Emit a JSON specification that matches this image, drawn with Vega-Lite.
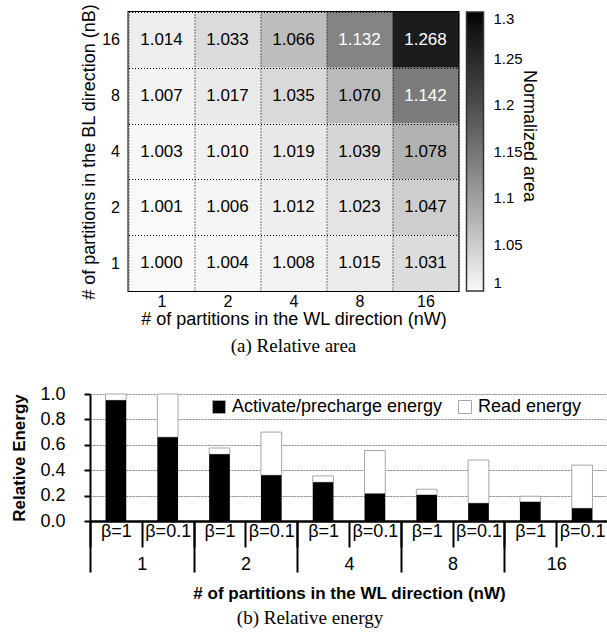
{
  "$schema": "https://vega.github.io/schema/vega-lite/v6.json",
  "padding": {"left": 10, "top": -21, "right": 0, "bottom": 0},
  "center": true,
  "spacing": 28,
  "config": {
    "font": "Liberation Sans",
    "axis": {"labelColor": "black", "titleColor": "black", "labelFont": "Liberation Sans", "titleFont": "Liberation Sans"},
    "legend": {"labelColor": "black", "titleColor": "black", "labelFont": "Liberation Sans", "titleFont": "Liberation Sans"}
  },
  "vconcat": [
    {
      "width": 330,
      "height": 279,
      "view": {"stroke": "black", "strokeWidth": 2},
      "title": {"text": "(a) Relative area", "orient": "bottom", "font": "Liberation Serif", "fontSize": 19, "fontWeight": "normal", "color": "black", "offset": 9, "frame": "group", "anchor": "middle"},
      "data": {"values": [
        {"nW": "1", "nB": "16", "area": 1.014}, {"nW": "2", "nB": "16", "area": 1.033}, {"nW": "4", "nB": "16", "area": 1.066}, {"nW": "8", "nB": "16", "area": 1.132}, {"nW": "16", "nB": "16", "area": 1.268},
        {"nW": "1", "nB": "8", "area": 1.007}, {"nW": "2", "nB": "8", "area": 1.017}, {"nW": "4", "nB": "8", "area": 1.035}, {"nW": "8", "nB": "8", "area": 1.070}, {"nW": "16", "nB": "8", "area": 1.142},
        {"nW": "1", "nB": "4", "area": 1.003}, {"nW": "2", "nB": "4", "area": 1.010}, {"nW": "4", "nB": "4", "area": 1.019}, {"nW": "8", "nB": "4", "area": 1.039}, {"nW": "16", "nB": "4", "area": 1.078},
        {"nW": "1", "nB": "2", "area": 1.001}, {"nW": "2", "nB": "2", "area": 1.006}, {"nW": "4", "nB": "2", "area": 1.012}, {"nW": "8", "nB": "2", "area": 1.023}, {"nW": "16", "nB": "2", "area": 1.047},
        {"nW": "1", "nB": "1", "area": 1.000}, {"nW": "2", "nB": "1", "area": 1.004}, {"nW": "4", "nB": "1", "area": 1.008}, {"nW": "8", "nB": "1", "area": 1.015}, {"nW": "16", "nB": "1", "area": 1.031}
      ]},
      "encoding": {
        "x": {"field": "nW", "type": "ordinal", "scale": {"domain": ["1", "2", "4", "8", "16"], "paddingInner": 0, "paddingOuter": 0},
          "axis": {"title": "# of partitions in the WL direction (nW)", "labelAngle": 0, "labelFontSize": 16, "titleFontSize": 18, "titleFontWeight": "normal", "labelPadding": 2, "titlePadding": 1, "ticks": false, "domain": false, "grid": true, "tickBand": "extent", "gridColor": "black", "gridDash": [1, 2], "gridWidth": 1, "zindex": 1}},
        "y": {"field": "nB", "type": "ordinal", "scale": {"domain": ["16", "8", "4", "2", "1"], "paddingInner": 0, "paddingOuter": 0},
          "axis": {"title": "# of partitions in the BL direction (nB)", "labelFontSize": 16, "titleFontSize": 18, "titleFontWeight": "normal", "labelPadding": 9, "titlePadding": 3, "ticks": false, "domain": false, "grid": true, "tickBand": "extent", "gridColor": "black", "gridDash": [1, 2], "gridWidth": 1, "zindex": 1}}
      },
      "layer": [
        {
          "mark": {"type": "rect"},
          "encoding": {
            "fill": {"field": "area", "type": "quantitative", "scale": {"domain": [1, 1.3], "range": ["#fafafa", "#000000"]},
              "legend": {"title": "Normalized area", "orient": "none", "legendX": 306, "legendY": -32, "padding": 32, "direction": "vertical", "gradientLength": 279, "gradientThickness": 17, "gradientStrokeColor": "#333333", "gradientStrokeWidth": 1.5, "values": [1, 1.05, 1.1, 1.15, 1.2, 1.25, 1.3], "labelExpr": "'' + datum.value", "labelFontSize": 15, "labelOffset": 10, "labelBaseline": "middle", "titleOrient": "right", "titleAngle": 270, "titleAnchor": "middle", "titleFontSize": 18, "titleFontWeight": "normal", "titlePadding": -3}}
          }
        },
        {
          "mark": {"type": "text", "fontSize": 17, "font": "Liberation Sans"},
          "encoding": {
            "text": {"field": "area", "type": "quantitative", "format": ".3f"},
            "color": {"condition": {"test": "datum.area > 1.1", "value": "white"}, "value": "black"}
          }
        }
      ]
    },
    {
      "width": 518,
      "height": 127,
      "view": {"stroke": null},
      "title": {"text": "(b) Relative energy", "orient": "bottom", "font": "Liberation Serif", "fontSize": 19, "fontWeight": "normal", "color": "black", "offset": 8, "frame": "bounds", "anchor": "middle"},
      "data": {"values": [
        {"nW": "1", "beta": "β=1", "bar": "1|β=1", "activate": 0.95, "total": 1.0},
        {"nW": "1", "beta": "β=0.1", "bar": "1|β=0.1", "activate": 0.66, "total": 1.0},
        {"nW": "2", "beta": "β=1", "bar": "2|β=1", "activate": 0.525, "total": 0.575},
        {"nW": "2", "beta": "β=0.1", "bar": "2|β=0.1", "activate": 0.36, "total": 0.70},
        {"nW": "4", "beta": "β=1", "bar": "4|β=1", "activate": 0.305, "total": 0.355},
        {"nW": "4", "beta": "β=0.1", "bar": "4|β=0.1", "activate": 0.215, "total": 0.555},
        {"nW": "8", "beta": "β=1", "bar": "8|β=1", "activate": 0.205, "total": 0.25},
        {"nW": "8", "beta": "β=0.1", "bar": "8|β=0.1", "activate": 0.14, "total": 0.48},
        {"nW": "16", "beta": "β=1", "bar": "16|β=1", "activate": 0.15, "total": 0.195},
        {"nW": "16", "beta": "β=0.1", "bar": "16|β=0.1", "activate": 0.10, "total": 0.44}
      ]},
      "layer": [
        {
          "mark": {"type": "bar", "width": {"band": 0.4}, "stroke": "#a6a6a6", "strokeWidth": 1},
          "encoding": {
            "x": {"field": "bar", "type": "nominal", "scale": {"domain": ["1|β=1", "1|β=0.1", "2|β=1", "2|β=0.1", "4|β=1", "4|β=0.1", "8|β=1", "8|β=0.1", "16|β=1", "16|β=0.1"], "paddingInner": 0, "paddingOuter": 0},
              "axis": {"orient": "bottom", "domain": false, "grid": false, "tickBand": "extent", "tickSize": 51, "tickWidth": 2, "tickColor": "black",
                "tickOpacity": {"condition": {"test": "datum.index >= 0 && test(/β=1$/, datum.value)", "value": 0}, "value": 1},
                "labelExpr": "test(/β=1$/, datum.label) ? split(datum.label, '|')[0] : ''", "labelAngle": 0, "labelOffset": 25.9, "labelPadding": -17, "labelBaseline": "top", "labelFontSize": 18,
                "title": "# of partitions in the WL direction (nW)", "titleFontWeight": "bold", "titleFontSize": 17, "titlePadding": 12}},
            "y": {"field": "activate", "type": "quantitative", "scale": {"domain": [0, 1]},
              "axis": {"title": "Relative Energy", "titleFontWeight": "bold", "titleFontSize": 17, "titlePadding": 11, "values": [0, 0.2, 0.4, 0.6, 0.8, 1], "format": ".1f", "labelFontSize": 18, "labelPadding": 19, "tickSize": 6, "tickWidth": 2, "tickColor": "black", "domainColor": "black", "domainWidth": 2, "grid": true, "gridColor": "#808080", "gridDash": [2, 1]}},
            "y2": {"field": "total"},
            "fill": {"datum": "Read energy", "scale": {"domain": ["Activate/precharge energy", "Read energy"], "range": ["black", "white"]},
              "legend": {"title": null, "orient": "none", "legendX": 120, "legendY": 4, "direction": "horizontal", "symbolType": "square", "symbolSize": 169, "symbolStrokeColor": "#a6a6a6", "symbolStrokeWidth": 1, "labelFontSize": 18, "labelLimit": 0, "columnPadding": 13, "labelOffset": 4}}
          }
        },
        {
          "mark": {"type": "bar", "width": {"band": 0.4}},
          "encoding": {
            "x": {"field": "bar", "type": "nominal", "scale": {"domain": ["1|β=1", "1|β=0.1", "2|β=1", "2|β=0.1", "4|β=1", "4|β=0.1", "8|β=1", "8|β=0.1", "16|β=1", "16|β=0.1"], "paddingInner": 0, "paddingOuter": 0},
              "axis": {"orient": "bottom", "title": null, "domain": true, "domainColor": "black", "domainWidth": 2.5, "grid": false, "ticks": true, "tickBand": "extent", "tickSize": 26, "tickWidth": 2, "tickColor": "black",
                "labelExpr": "split(datum.label, '|')[1]", "labelAngle": 0, "labelPadding": -25, "labelBaseline": "top", "labelFontSize": 18}},
            "y": {"field": "activate", "type": "quantitative", "scale": {"domain": [0, 1]},
              "axis": {"title": "Relative Energy", "titleFontWeight": "bold", "titleFontSize": 17, "titlePadding": 11, "values": [0, 0.2, 0.4, 0.6, 0.8, 1], "format": ".1f", "labelFontSize": 18, "labelPadding": 19, "tickSize": 6, "tickWidth": 2, "tickColor": "black", "domainColor": "black", "domainWidth": 2, "grid": true, "gridColor": "#808080", "gridDash": [2, 1]}},
            "fill": {"datum": "Activate/precharge energy"}
          }
        }
      ],
      "resolve": {"axis": {"x": "independent"}}
    }
  ]
}
